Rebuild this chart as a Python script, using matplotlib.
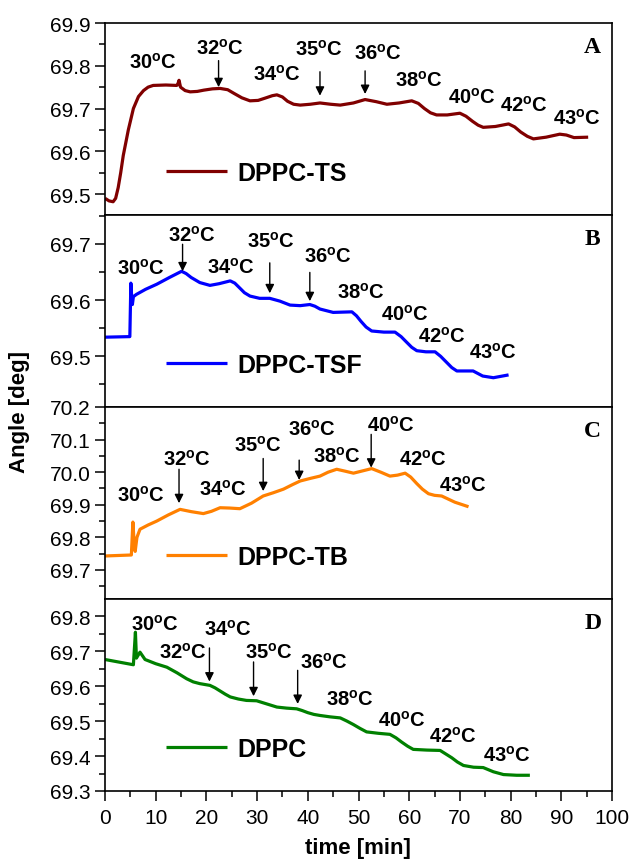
import matplotlib
matplotlib.use("Agg")
import matplotlib.pyplot as plt
from matplotlib.ticker import MultipleLocator

plt.rcParams['font.family'] = ['Liberation Sans', 'DejaVu Sans']
plt.rcParams['mathtext.fontset'] = 'custom'
plt.rcParams['mathtext.rm'] = 'Liberation Sans'
plt.rcParams['mathtext.bf'] = 'Liberation Sans:bold'

# ---------------- data ----------------
time_A = [0, 0.8, 1.6, 2.1, 2.6, 3.1, 3.6, 4.6, 5.6, 6.6, 7.6, 8.5, 9.5, 12, 14.1, 14.3, 14.6, 14.9,
          15.8, 16.8, 18.2, 19.5, 21.2, 22.7, 24.2, 25.5, 27.0, 28.6, 30.2, 31.5, 33.0, 33.9, 35.0,
          36.0, 37.2, 38.5, 40.5, 42.4, 44.5, 46.4, 49.0, 51.3, 53.5, 55.6, 58.0, 60.5, 61.8, 63.0,
          64.2, 65.4, 67.5, 70.0, 71.2, 72.5, 73.6, 74.6, 77.0, 79.6, 80.8, 82.0, 83.3, 84.5, 87.0,
          89.7, 91.0, 92.5, 95.3]
angle_A = [69.490, 69.484, 69.482, 69.490, 69.515, 69.55, 69.59, 69.65, 69.70, 69.728, 69.742,
           69.750, 69.754, 69.755, 69.754, 69.755, 69.766, 69.750, 69.742, 69.739, 69.740, 69.743,
           69.746, 69.747, 69.744, 69.735, 69.725, 69.718, 69.719, 69.724, 69.730, 69.732, 69.727,
           69.717, 69.710, 69.708, 69.710, 69.713, 69.710, 69.708, 69.713, 69.721, 69.716, 69.710,
           69.713, 69.718, 69.712, 69.700, 69.690, 69.685, 69.685, 69.689, 69.682, 69.670, 69.661,
           69.656, 69.658, 69.664, 69.657, 69.645, 69.635, 69.629, 69.633, 69.640, 69.638, 69.632,
           69.633]

time_B = [0, 4.9, 5.1, 5.3, 5.4, 5.6, 6.2, 8, 10.2, 12.7, 15.1, 16.0, 17, 18.7, 20.7, 22.5, 24.7,
          25.6, 26.5, 27.5, 28.6, 30.5, 32.5, 34.5, 36.5, 38.5, 40.4, 41.4, 42.4, 45, 48.7, 49.6,
          50.5, 51.5, 52.6, 55.0, 57.2, 58.4, 59.5, 60.5, 61.5, 63.3, 65.1, 66.2, 67.3, 68.4, 69.4,
          71.0, 72.6, 74.5, 76.6, 79.6]
angle_B = [69.534, 69.535, 69.630, 69.600, 69.592, 69.606, 69.610, 69.619, 69.628, 69.640, 69.651,
           69.647, 69.640, 69.631, 69.626, 69.629, 69.634, 69.630, 69.622, 69.613, 69.607, 69.603,
           69.603, 69.598, 69.591, 69.590, 69.592, 69.589, 69.584, 69.578, 69.579, 69.572, 69.562,
           69.552, 69.545, 69.543, 69.543, 69.535, 69.525, 69.516, 69.510, 69.508, 69.508, 69.500,
           69.490, 69.480, 69.474, 69.474, 69.474, 69.465, 69.462, 69.467]

time_C = [0, 5.2, 5.5, 5.8, 5.95, 6.3, 6.9, 8.5, 10.2, 12.5, 14.8, 17.0, 19.4, 21.0, 22.7, 24.6,
          26.6, 28.9, 31.2, 33.2, 35.2, 37.0, 38.5, 40.5, 42.4, 44.0, 45.7, 47.4, 49, 50.8, 52.6,
          54.4, 56.2, 57.7, 59.2, 60.3, 61.5, 62.6, 63.8, 65.0, 66.4, 69, 71.7]
angle_C = [69.743, 69.746, 69.847, 69.770, 69.757, 69.800, 69.825, 69.838, 69.850, 69.869, 69.886,
           69.879, 69.873, 69.880, 69.891, 69.890, 69.888, 69.905, 69.927, 69.937, 69.948, 69.962,
           69.973, 69.981, 69.988, 70.000, 70.009, 70.003, 69.997, 70.004, 70.011, 70.000, 69.988,
           69.991, 69.997, 69.985, 69.965, 69.948, 69.934, 69.929, 69.927, 69.908, 69.894]

time_D = [0, 5.6, 6.0, 6.2, 6.9, 7.9, 10, 12.2, 14.2, 16.1, 17.4, 18.7, 20.7, 21.7, 22.7, 23.7,
          24.7, 26.3, 27.9, 29.9, 31.9, 33.9, 35.8, 37.8, 38.9, 40, 41.2, 42.4, 44.4, 46.4, 47.7,
          49, 50.3, 51.6, 53.9, 56.2, 57.4, 58.5, 59.7, 60.8, 63.5, 66.1, 67.2, 68.4, 69.5, 70.7,
          72.7, 74.6, 76.6, 78.6, 81.2, 83.8]
angle_D = [69.676, 69.661, 69.754, 69.680, 69.697, 69.676, 69.664, 69.654, 69.638, 69.621, 69.612,
           69.607, 69.602, 69.595, 69.586, 69.577, 69.569, 69.563, 69.559, 69.558, 69.549, 69.540,
           69.537, 69.535, 69.530, 69.524, 69.519, 69.516, 69.512, 69.509, 69.500, 69.490, 69.479,
           69.469, 69.465, 69.462, 69.452, 69.440, 69.428, 69.419, 69.417, 69.416, 69.406, 69.395,
           69.383, 69.373, 69.368, 69.367, 69.355, 69.347, 69.345, 69.345]

temps = ["30", "32", "34", "35", "36", "38", "40", "42", "43"]
series_names = ["DPPC-TS", "DPPC-TSF", "DPPC-TB", "DPPC"]
panel_letters = ["A", "B", "C", "D"]
x_ticks = [0, 10, 20, 30, 40, 50, 60, 70, 80, 90, 100]

# ---------------- layout / styles ----------------
colors = ["#800000", "#0000FF", "#FF8000", "#008000"]
ylims = [(69.451, 69.9), (69.41, 69.751), (69.611, 70.2), (69.3, 69.849)]

# label positions (x, y) per panel, in temps order
label_pos = [
    [(9.4, 69.809), (22.7, 69.843), (33.9, 69.781), (42.2, 69.839), (53.9, 69.830),
     (62.0, 69.767), (72.3, 69.728), (82.6, 69.708), (93.0, 69.679)],
    [(7.0, 69.657), (17.1, 69.716), (24.8, 69.660), (32.7, 69.705), (44.0, 69.679),
     (50.4, 69.615), (59.2, 69.575), (66.4, 69.536), (76.5, 69.509)],
    [(7.0, 69.932), (16.1, 70.042), (23.2, 69.950), (30.1, 70.083), (40.8, 70.134),
     (45.7, 70.052), (56.4, 70.147), (62.7, 70.040), (70.5, 69.963)],
    [(9.9, 69.778), (15.4, 69.699), (24.2, 69.764), (32.4, 69.699), (43.1, 69.669),
     (48.3, 69.564), (58.5, 69.505), (68.6, 69.459), (79.2, 69.405)],
]
# arrows (x, y_start, y_tip)
arrows = [
    [(22.4, 69.812, 69.750), (42.4, 69.786, 69.730), (51.3, 69.788, 69.734)],
    [(15.3, 69.699, 69.651), (32.5, 69.666, 69.612), (40.4, 69.649, 69.598)],
    [(14.6, 70.009, 69.905), (31.2, 70.042, 69.942), (38.3, 70.037, 69.976), (52.5, 70.116, 70.014)],
    [(20.6, 69.709, 69.613), (29.3, 69.669, 69.571), (38.0, 69.645, 69.549)],
]

times = [time_A, time_B, time_C, time_D]
angles = [angle_A, angle_B, angle_C, angle_D]

fig = plt.figure(figsize=(6.3, 8.62), dpi=100)
left, right = 105 / 630, 612 / 630
bottom_px, top_px = 792, 24
h = (bottom_px - top_px) / 4

axes = []
for i in range(4):
    y0 = 1 - (top_px + (i + 1) * h) / 862
    ax = fig.add_axes([left, y0, right - left, h / 862])
    axes.append(ax)

for i, ax in enumerate(axes):
    ax.plot(times[i], angles[i], color=colors[i], lw=2.3, label=series_names[i],
            solid_joinstyle='round', solid_capstyle='butt')
    ax.set_xlim(0, 100)
    ax.set_ylim(*ylims[i])
    ax.yaxis.set_major_locator(MultipleLocator(0.1))
    ax.yaxis.set_minor_locator(MultipleLocator(0.05))
    ax.yaxis.set_major_formatter(plt.FuncFormatter(lambda v, p: f"{v:.1f}"))
    ax.tick_params(axis='y', which='major', direction='out', length=7, width=1.1,
                   labelsize=15, right=False)
    ax.tick_params(axis='y', which='minor', direction='out', length=4, width=1.1, right=False)
    for s in ax.spines.values():
        s.set_linewidth(1.2)
    if i < 3:
        ax.tick_params(axis='x', which='both', bottom=False, top=False, labelbottom=False)
    else:
        ax.set_xticks(x_ticks)
        ax.xaxis.set_minor_locator(MultipleLocator(5))
        ax.tick_params(axis='x', which='major', direction='out', length=7, width=1.1,
                       labelsize=15, top=False, pad=5)
        ax.tick_params(axis='x', which='minor', direction='out', length=4, width=1.1, top=False)

    for t, (lx, ly) in zip(temps, label_pos[i]):
        ax.text(lx, ly, r'$\mathbf{' + t + r'^{o}C}$', ha='center', va='center', fontsize=14.5)
    for (axx, ys, yt) in arrows[i]:
        ax.annotate('', xy=(axx, yt), xytext=(axx, ys),
                    arrowprops=dict(arrowstyle='-|>', color='black', lw=1.0,
                                    mutation_scale=13, shrinkA=0, shrinkB=0))
    ax.text(0.962, 0.88, panel_letters[i], transform=ax.transAxes, ha='center', va='center',
            fontsize=17, fontweight='bold', family='Liberation Serif')
    leg = ax.legend(loc='center left', bbox_to_anchor=(0.12, 0.22), frameon=False,
                    handlelength=2.45, handletextpad=0.4, borderpad=0, borderaxespad=0,
                    prop={'weight': 'bold', 'size': 18})

fig.text(20 / 630, 1 - 412 / 862, 'Angle [deg]', rotation=90, ha='center', va='center',
         fontsize=16, fontweight='bold')
fig.text(358 / 630, 1 - 849 / 862, 'time [min]', ha='center', va='center',
         fontsize=16, fontweight='bold')

fig.savefig('out.png', dpi=100)
